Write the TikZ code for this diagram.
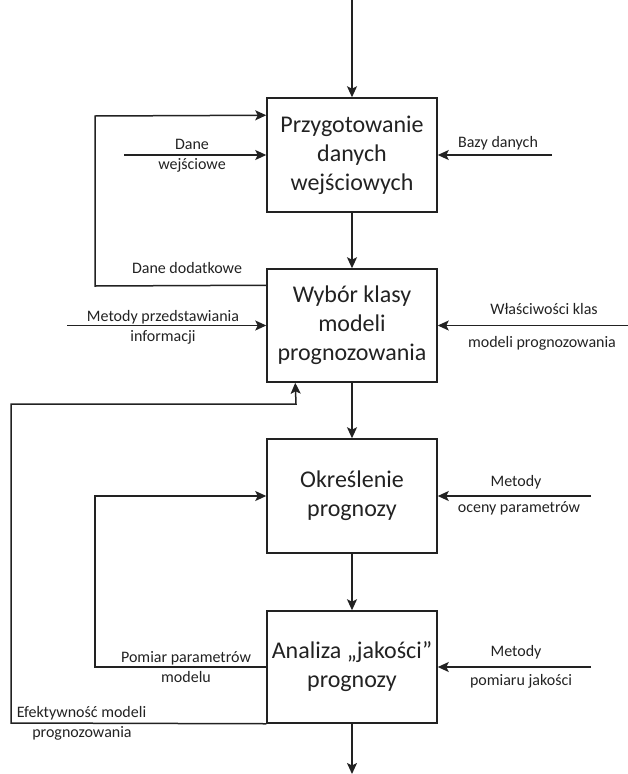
\documentclass[tikz,border=0pt]{standalone}
\usepackage{fontspec}
\setmainfont{Carlito}
\usetikzlibrary{arrows.meta}
\definecolor{ink}{HTML}{222222}
\begin{document}
\begin{tikzpicture}[x=1pt,y=-1pt,
  line width=1.5pt, draw=ink, text=ink,
  arr/.style={draw=ink, -{Stealth[length=11pt,width=10pt,inset=2.5pt]}},
  block/.style={draw=ink, rectangle, minimum width=170pt, inner sep=0pt, align=center,
    font=\fontsize{24}{29}\selectfont},
  lbl/.style={inner sep=0pt, align=center, font=\fontsize{16}{20}\selectfont}]
\useasboundingbox (0,0) rectangle (628,774);

% boxes
\node[block, minimum height=114pt] (b1) at (352,155) {Przygotowanie\\danych\\wejściowych};
\node[block, minimum height=113pt] (b2) at (352,325.5) {Wybór klasy\\modeli\\prognozowania};
\node[block, minimum height=114pt] (b3) at (352,496) {Określenie\\prognozy};
\node[block, minimum height=112pt] (b4) at (352,667) {Analiza „jakości”\\prognozy};

% free ends
\coordinate (top) at (352,0);
\coordinate (bot) at (352,774);
\coordinate (inA) at (124,155);
\coordinate (inB) at (552,155);
\coordinate (inC) at (67,325.5);
\coordinate (inD) at (628,325.5);
\coordinate (inE) at (591,496);
\coordinate (inF) at (591,667);
\coordinate (fa1) at (95,286);
\coordinate (fa2) at (95,116);
\coordinate (fb1) at (95,667);
\coordinate (fb2) at (95,496);
\coordinate (fc1) at (11,723);
\coordinate (fc2) at (11,404);
\coordinate (fc3) at (296,404);

% main flow
\draw[arr] (top) -- (b1.north);
\draw[arr] (b1.south) -- (b2.north);
\draw[arr] (b2.south) -- (b3.north);
\draw[arr] (b3.south) -- (b4.north);
\draw[arr] (b4.south) -- (bot);

% inputs
\draw[arr] (inA) -- (b1.west);
\draw[arr] (inB) -- (b1.east);
\draw[arr] (inC) -- (b2.west);
\draw[arr] (inD) -- (b2.east);
\draw[arr] (inE) -- (b3.east);
\draw[arr] (inF) -- (b4.east);

% feedback loops
\draw[arr] ([yshift=-17pt]b2.north west) -- (fa1) -- (fa2) -- ([yshift=-18pt]b1.north west);
\draw[arr] (b4.west) -- (fb1) -- (fb2) -- (b3.west);
\draw[arr] (b4.south west) -- (fc1) -- (fc2) -- (fc3) -- ([xshift=29pt]b2.south west);

% labels
\node[lbl] (l1) at (192,156) {Dane\\wejściowe};
\node[lbl] (l2) at (498,143) {Bazy danych};
\node[lbl] (l3) at (187,268) {Dane dodatkowe};
\node[lbl] (l4) at (163,327) {Metody przedstawiania\\informacji};
\node[lbl] (l5) at (544,309) {Właściwości klas};
\node[lbl] (l6) at (542,343) {modeli prognozowania};
\node[lbl] (l7) at (516,482) {Metody};
\node[lbl] (l8) at (519,508) {oceny parametrów};
\node[lbl] (l9) at (186,667.5) {Pomiar parametrów\\modelu};
\node[lbl] (l10) at (516,652) {Metody};
\node[lbl] (l11) at (521,681) {pomiaru jakości};
\node[lbl, anchor=west] (l12) at (16,713) {Efektywność modeli};
\node[lbl] (l13) at (82,733) {prognozowania};
\end{tikzpicture}
\end{document}
